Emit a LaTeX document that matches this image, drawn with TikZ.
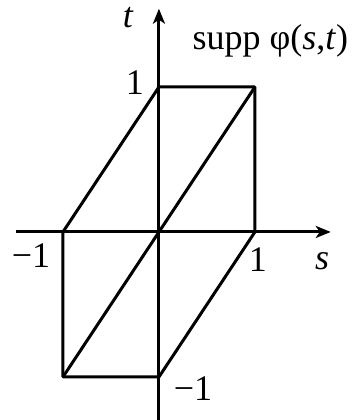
\documentclass[tikz,border=0pt]{standalone}
\usepackage{fontspec}
\setmainfont{Liberation Serif}
\usetikzlibrary{arrows.meta}

\begin{document}
\begin{tikzpicture}[x=48pt, y=72.5pt, line width=1.5pt,
    axisarrow/.style={-{Stealth[length=7.5pt, width=6pt, inset=2pt]}},
    lbl/.style={font=\fontsize{18}{20}\selectfont, inner sep=0pt}]
    \useasboundingbox (-1.656,-1.297) rectangle (2.031,1.6);

    % Axes
    \coordinate (sL) at (-1.49,0);
    \coordinate (sR) at (1.79,0);
    \coordinate (tB) at (0,-1.297);
    \coordinate (tT) at (0,1.54);
    \draw[axisarrow] (sL) -- (sR);
    \draw[axisarrow] (tB) -- (tT);

    % Support of phi
    \coordinate (O) at (0,0);
    \coordinate (A) at (0,1);
    \coordinate (B) at (1,1);
    \coordinate (C) at (1,0);
    \coordinate (D) at (0,-1);
    \coordinate (E) at (-1,-1);
    \coordinate (F) at (-1,0);
    \draw[line join=round] (A) -- (B) -- (C) -- (D) -- (E) -- (F) -- cycle;
    \draw (E) -- (B);

    % Labels
    \node[lbl] (labT) at (-0.32,1.476) {\textit{t}};
    \node[lbl] (labSupp) at (1.16,1.32) {supp φ(\textit{s},\textit{t})};
    \node[lbl] (labTone) at (-0.25,1.03) {1};
    \node[lbl] (labSmone) at (-1.333,-0.165) {−1};
    \node[lbl] (labSone) at (1.03,-0.19) {1};
    \node[lbl] (labS) at (1.70,-0.2) {\textit{s}};
    \node[lbl] (labTmone) at (0.354,-1.083) {−1};
\end{tikzpicture}
\end{document}
